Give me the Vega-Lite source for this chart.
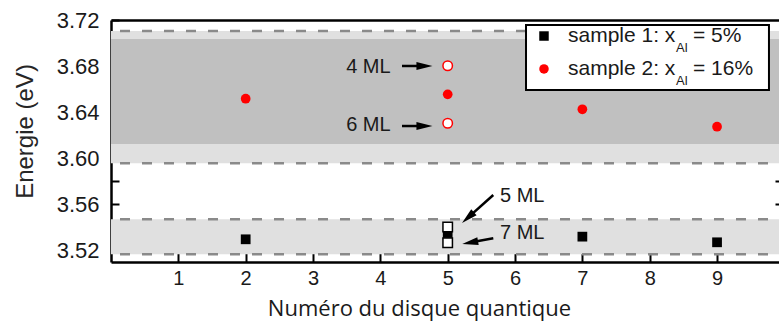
{
  "$schema": "https://vega.github.io/schema/vega-lite/v6.json",
  "width": 668,
  "height": 242,
  "autosize": {"type": "none"},
  "padding": {"left": 111, "top": 20, "right": 0, "bottom": 60},
  "background": "white",
  "config": {
    "view": {"stroke": null},
    "axis": {
      "grid": false,
      "domainColor": "black",
      "tickColor": "black",
      "labelFont": "Liberation Sans",
      "titleFont": "Liberation Sans",
      "titleFontWeight": "normal",
      "labelColor": "#1a1a1a",
      "titleColor": "#262626"
    }
  },
  "datasets": {
    "lightBands": [
      {"top": 3.7105, "bottom": 3.5957},
      {"top": 3.5471, "bottom": 3.5167}
    ],
    "darkBands": [
      {"top": 3.7035, "bottom": 3.6124}
    ],
    "dashes": [
      {"energy": 3.7105},
      {"energy": 3.5957},
      {"energy": 3.5471},
      {"energy": 3.5167}
    ],
    "points": [
      {"disk": 2, "energy": 3.5297, "sample": "sample 1"},
      {"disk": 5, "energy": 3.5334, "sample": "sample 1"},
      {"disk": 7, "energy": 3.532, "sample": "sample 1"},
      {"disk": 9, "energy": 3.5271, "sample": "sample 1"},
      {"disk": 2, "energy": 3.6517, "sample": "sample 2"},
      {"disk": 5, "energy": 3.6555, "sample": "sample 2"},
      {"disk": 7, "energy": 3.6425, "sample": "sample 2"},
      {"disk": 9, "energy": 3.6274, "sample": "sample 2"}
    ],
    "openPoints": [
      {"disk": 5, "energy": 3.5404, "sample": "sample 1", "layers": "5 ML"},
      {"disk": 5, "energy": 3.5268, "sample": "sample 1", "layers": "7 ML"},
      {"disk": 5, "energy": 3.6803, "sample": "sample 2", "layers": "4 ML"},
      {"disk": 5, "energy": 3.6304, "sample": "sample 2", "layers": "6 ML"}
    ],
    "arrows": [
      {"layers": "4 ML", "x0": 4.321, "y0": 3.6801, "xh": 4.655, "yh": 3.6801, "angle": 0},
      {"layers": "6 ML", "x0": 4.321, "y0": 3.628, "xh": 4.655, "yh": 3.628, "angle": 0},
      {"layers": "5 ML", "x0": 5.677, "y0": 3.5681, "xh": 5.301, "yh": 3.5485, "angle": 138},
      {"layers": "7 ML", "x0": 5.677, "y0": 3.5306, "xh": 5.333, "yh": 3.5269, "angle": 170}
    ],
    "notesLeft": [
      {"layers": "4 ML", "x": 4.153, "y": 3.6795},
      {"layers": "6 ML", "x": 4.153, "y": 3.6289}
    ],
    "notesRight": [
      {"layers": "5 ML", "x": 5.777, "y": 3.5673},
      {"layers": "7 ML", "x": 5.777, "y": 3.5349}
    ],
    "legendBox": [
      {"x0": 6.163, "x1": 9.771, "y0": 3.7157, "y1": 3.6593}
    ],
    "legendItems": [
      {"sample": "sample 1", "x": 6.43, "y": 3.7061, "main": "sample 1: x", "sub": "Al", "tail": "= 5%"},
      {"sample": "sample 2", "x": 6.43, "y": 3.6775, "main": "sample 2: x", "sub": "Al", "tail": "= 16%"}
    ]
  },
  "layer": [
    {
      "data": {"name": "lightBands"},
      "mark": {"type": "rect", "color": "#e0e0e0"},
      "encoding": {
        "y": {"field": "top", "type": "quantitative", "scale": {"domain": [3.51, 3.72], "nice": false, "zero": false}, "axis": null},
        "y2": {"field": "bottom"}
      }
    },
    {
      "data": {"name": "darkBands"},
      "mark": {"type": "rect", "color": "#c0c0c0"},
      "encoding": {
        "y": {"field": "top", "type": "quantitative", "scale": {"domain": [3.51, 3.72], "nice": false, "zero": false}, "axis": null},
        "y2": {"field": "bottom"}
      }
    },
    {
      "data": {"name": "dashes"},
      "mark": {"type": "rule", "color": "#8a8a8a", "strokeWidth": 2.5, "strokeDash": [10, 12], "strokeDashOffset": 11},
      "encoding": {
        "y": {"field": "energy", "type": "quantitative", "scale": {"domain": [3.51, 3.72], "nice": false, "zero": false}, "axis": null}
      }
    },
    {
      "data": {"name": "points"},
      "mark": {"type": "point", "filled": true, "opacity": 1, "size": 95},
      "encoding": {
        "x": {
          "field": "disk", "type": "quantitative",
          "scale": {"domain": [0, 9.92], "nice": false, "zero": false},
          "axis": {
            "orient": "bottom",
            "values": [1, 2, 3, 4, 5, 6, 7, 8, 9],
            "format": "d",
            "domainWidth": 2.5,
            "tickSize": -9,
            "tickWidth": 2,
            "labelFontSize": 20,
            "labelPadding": 15,
            "title": "Numéro du disque quantique",
            "titleFont": "Open Sans",
            "titleFontSize": 22,
            "titleX": 308,
            "titleY": 53,
            "titleBaseline": "alphabetic",
            "titleColor": "#1a1a1a"
          }
        },
        "y": {
          "field": "energy", "type": "quantitative",
          "scale": {"domain": [3.51, 3.72], "nice": false, "zero": false},
          "axis": {
            "orient": "left",
            "values": [3.52, 3.54, 3.56, 3.58, 3.6, 3.62, 3.64, 3.66, 3.68, 3.7, 3.72],
            "labelExpr": "round(datum.value * 100) % 4 == 0 ? format(datum.value, '.2f') : ''",
            "domainWidth": 2.5,
            "tickSize": -8,
            "tickWidth": 2,
            "labelFontSize": 22,
            "labelPadding": 20,
            "title": "Energie (eV)",
            "titleFontSize": 24,
            "titleX": -79,
            "titleY": 111,
            "titleBaseline": "alphabetic"
          }
        },
        "shape": {"field": "sample", "type": "nominal", "scale": {"domain": ["sample 1", "sample 2"], "range": ["square", "circle"]}, "legend": null},
        "color": {"field": "sample", "type": "nominal", "scale": {"domain": ["sample 1", "sample 2"], "range": ["#000000", "#ff0000"]}, "legend": null}
      }
    },
    {
      "data": {"name": "openPoints"},
      "mark": {"type": "point", "filled": false, "fill": "white", "fillOpacity": 1, "opacity": 1, "strokeWidth": 1.5, "size": 90},
      "encoding": {
        "x": {
          "field": "disk", "type": "quantitative",
          "scale": {"domain": [0, 9.92], "nice": false, "zero": false},
          "axis": {"orient": "top", "labels": false, "ticks": false, "domainWidth": 2.5, "title": null}
        },
        "y": {
          "field": "energy", "type": "quantitative",
          "scale": {"domain": [3.51, 3.72], "nice": false, "zero": false},
          "axis": {
            "orient": "right",
            "values": [3.52, 3.54, 3.56, 3.58, 3.6, 3.62, 3.64, 3.66, 3.68, 3.7],
            "labels": false,
            "domain": false,
            "tickSize": -4,
            "tickWidth": 2,
            "title": null
          }
        },
        "shape": {"field": "sample", "type": "nominal", "scale": {"domain": ["sample 1", "sample 2"], "range": ["square", "circle"]}, "legend": null},
        "stroke": {"field": "sample", "type": "nominal", "scale": {"domain": ["sample 1", "sample 2"], "range": ["#000000", "#ff0000"]}, "legend": null}
      }
    },
    {
      "data": {"name": "arrows"},
      "mark": {"type": "rule", "color": "black", "strokeWidth": 2.5},
      "encoding": {
        "x": {"field": "x0", "type": "quantitative", "scale": {"domain": [0, 9.92], "nice": false, "zero": false}, "axis": null},
        "y": {"field": "y0", "type": "quantitative", "scale": {"domain": [3.51, 3.72], "nice": false, "zero": false}, "axis": null},
        "x2": {"field": "xh"},
        "y2": {"field": "yh"}
      }
    },
    {
      "data": {"name": "arrows"},
      "mark": {"type": "point", "filled": true, "color": "black", "opacity": 1, "shape": "M 1 0 L -1 -0.5 L -1 0.5 Z", "size": 256},
      "encoding": {
        "x": {"field": "xh", "type": "quantitative", "scale": {"domain": [0, 9.92], "nice": false, "zero": false}, "axis": null},
        "y": {"field": "yh", "type": "quantitative", "scale": {"domain": [3.51, 3.72], "nice": false, "zero": false}, "axis": null},
        "angle": {"field": "angle", "type": "quantitative", "scale": null}
      }
    },
    {
      "data": {"name": "notesLeft"},
      "mark": {"type": "text", "font": "Liberation Sans", "fontSize": 20, "align": "right", "baseline": "middle", "color": "#1a1a1a"},
      "encoding": {
        "x": {"field": "x", "type": "quantitative", "scale": {"domain": [0, 9.92], "nice": false, "zero": false}, "axis": null},
        "y": {"field": "y", "type": "quantitative", "scale": {"domain": [3.51, 3.72], "nice": false, "zero": false}, "axis": null},
        "text": {"field": "layers"}
      }
    },
    {
      "data": {"name": "notesRight"},
      "mark": {"type": "text", "font": "Liberation Sans", "fontSize": 20, "align": "left", "baseline": "middle", "color": "#1a1a1a"},
      "encoding": {
        "x": {"field": "x", "type": "quantitative", "scale": {"domain": [0, 9.92], "nice": false, "zero": false}, "axis": null},
        "y": {"field": "y", "type": "quantitative", "scale": {"domain": [3.51, 3.72], "nice": false, "zero": false}, "axis": null},
        "text": {"field": "layers"}
      }
    },
    {
      "data": {"name": "legendBox"},
      "mark": {"type": "rect", "fill": "white", "stroke": "black", "strokeWidth": 2},
      "encoding": {
        "x": {"field": "x0", "type": "quantitative", "scale": {"domain": [0, 9.92], "nice": false, "zero": false}, "axis": null},
        "x2": {"field": "x1"},
        "y": {"field": "y0", "type": "quantitative", "scale": {"domain": [3.51, 3.72], "nice": false, "zero": false}, "axis": null},
        "y2": {"field": "y1"}
      }
    },
    {
      "data": {"name": "legendItems"},
      "mark": {"type": "point", "filled": true, "opacity": 1, "size": 90},
      "encoding": {
        "x": {"field": "x", "type": "quantitative", "scale": {"domain": [0, 9.92], "nice": false, "zero": false}, "axis": null},
        "y": {"field": "y", "type": "quantitative", "scale": {"domain": [3.51, 3.72], "nice": false, "zero": false}, "axis": null},
        "shape": {"field": "sample", "type": "nominal", "scale": {"domain": ["sample 1", "sample 2"], "range": ["square", "circle"]}, "legend": null},
        "color": {"field": "sample", "type": "nominal", "scale": {"domain": ["sample 1", "sample 2"], "range": ["#000000", "#ff0000"]}, "legend": null}
      }
    },
    {
      "data": {"name": "legendItems"},
      "mark": {"type": "text", "font": "Liberation Sans", "fontSize": 21, "align": "left", "baseline": "middle", "dx": 24, "color": "#1a1a1a"},
      "encoding": {
        "x": {"field": "x", "type": "quantitative", "scale": {"domain": [0, 9.92], "nice": false, "zero": false}, "axis": null},
        "y": {"field": "y", "type": "quantitative", "scale": {"domain": [3.51, 3.72], "nice": false, "zero": false}, "axis": null},
        "text": {"field": "main"}
      }
    },
    {
      "data": {"name": "legendItems"},
      "mark": {"type": "text", "font": "Liberation Sans", "fontSize": 13, "align": "left", "baseline": "middle", "dx": 132, "dy": 12, "color": "#1a1a1a"},
      "encoding": {
        "x": {"field": "x", "type": "quantitative", "scale": {"domain": [0, 9.92], "nice": false, "zero": false}, "axis": null},
        "y": {"field": "y", "type": "quantitative", "scale": {"domain": [3.51, 3.72], "nice": false, "zero": false}, "axis": null},
        "text": {"field": "sub"}
      }
    },
    {
      "data": {"name": "legendItems"},
      "mark": {"type": "text", "font": "Liberation Sans", "fontSize": 21, "align": "left", "baseline": "middle", "dx": 149, "color": "#1a1a1a"},
      "encoding": {
        "x": {"field": "x", "type": "quantitative", "scale": {"domain": [0, 9.92], "nice": false, "zero": false}, "axis": null},
        "y": {"field": "y", "type": "quantitative", "scale": {"domain": [3.51, 3.72], "nice": false, "zero": false}, "axis": null},
        "text": {"field": "tail"}
      }
    }
  ],
  "resolve": {"axis": {"x": "independent", "y": "independent"}}
}
